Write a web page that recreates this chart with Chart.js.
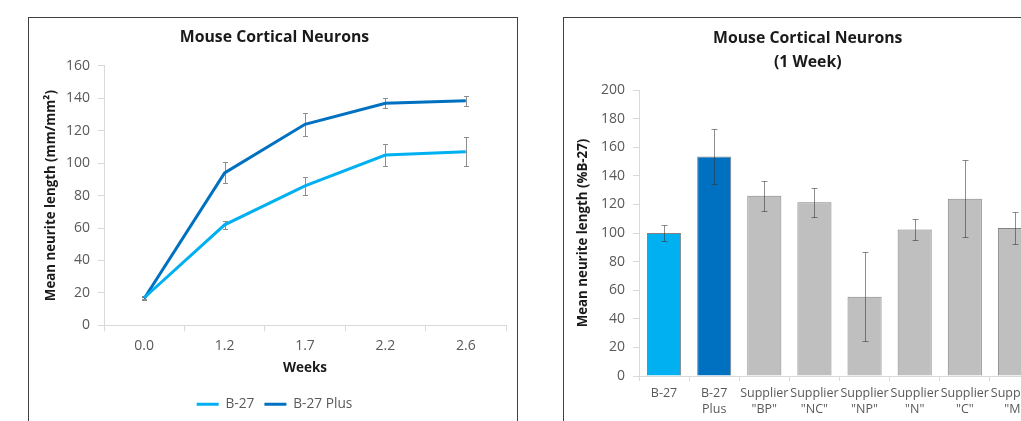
<!DOCTYPE html>
<html>
<head>
<meta charset="utf-8">
<script src="https://cdn.jsdelivr.net/npm/chart.js@4.4.1/dist/chart.umd.min.js"></script>
<style>
  body { margin: 0; background: #fff; width: 1021px; height: 421px; overflow: hidden; position: relative; }
  .box { position: absolute; top: 17px; width: 488px; height: 420px; border: 1px solid #404040; background: #fff; }
  #leftBox { left: 28px; }
  #rightBox { left: 563px; }
  canvas { position: absolute; left: 0; top: 0; }
</style>
</head>
<body>
<div class="box" id="leftBox"><canvas id="line-graph" width="488" height="403"></canvas></div>
<div class="box" id="rightBox"><canvas id="bar-graph" width="488" height="403"></canvas></div>
<script>
// Data - time course
var weeks = ['0.0', '1.2', '1.7', '2.2', '2.6'];
var b27 = [17, 62, 86, 105, 107];
var b27Err = [1, 2.5, 5.5, 7, 9];
var b27Plus = [16.5, 94, 124, 137, 138.5];
var b27PlusErr = [1, 6.5, 7, 3, 3];

// Data - 1 week comparison
var suppliers = [['B-27'], ['B-27', 'Plus'], ['Supplier', '"BP"'], ['Supplier', '"NC"'], ['Supplier', '"NP"'], ['Supplier', '"N"'], ['Supplier', '"C"'], ['Supplier', '"M"']];
var relLength = [100, 153.5, 126, 121.5, 55.5, 102.5, 124, 103.5];
var relErr = [5.5, 19, 10.5, 10, 31, 7.5, 27, 11.5];

var lightBlue = '#00B0F0';
var darkBlue = '#0070C0';
var grey = '#BFBFBF';
var axisGrey = '#D9D9D9';
var textGrey = '#595959';
var font = 'Open Sans';

// error bars drawn from each dataset's "errors" array
function drawErrors(chart, opts) {
  var ctx = chart.ctx;
  var y = chart.scales.y;
  chart.data.datasets.forEach(function (ds, i) {
    if (!ds.errors) return;
    var meta = chart.getDatasetMeta(i);
    ctx.save();
    ctx.strokeStyle = opts.color;
    ctx.lineWidth = 1;
    meta.data.forEach(function (el, j) {
      var x = Math.round(el.x) + 0.5;
      var top = Math.round(y.getPixelForValue(ds.data[j] + ds.errors[j])) + 0.5;
      var bot = Math.round(y.getPixelForValue(ds.data[j] - ds.errors[j])) + 0.5;
      ctx.beginPath();
      ctx.moveTo(x, top); ctx.lineTo(x, bot);
      ctx.moveTo(x - opts.cap, top); ctx.lineTo(x + opts.cap, top);
      ctx.moveTo(x - opts.cap, bot); ctx.lineTo(x + opts.cap, bot);
      ctx.stroke();
    });
    ctx.restore();
  });
}

var errorBars = {
  id: 'errorBars',
  beforeDatasetsDraw: function (chart, args, opts) { if (opts.under) drawErrors(chart, opts); },
  afterDatasetsDraw: function (chart, args, opts) { if (!opts.under) drawErrors(chart, opts); }
};

// Line chart
new Chart(document.getElementById('line-graph'), {
  type: 'line',
  data: {
    labels: weeks,
    datasets: [{
      label: 'B-27',
      data: b27,
      errors: b27Err,
      borderColor: lightBlue,
      backgroundColor: lightBlue,
      borderWidth: 3,
      pointRadius: 0,
      tension: 0
    }, {
      label: 'B-27 Plus',
      data: b27Plus,
      errors: b27PlusErr,
      borderColor: darkBlue,
      backgroundColor: darkBlue,
      borderWidth: 3,
      pointRadius: 0,
      tension: 0
    }]
  },
  plugins: [errorBars],
  options: {
    responsive: false,
    animation: false,
    layout: { padding: { left: 14, right: 11, top: 0, bottom: 0 } },
    plugins: {
      errorBars: { under: true, color: '#8C8C8C', cap: 2.5 },
      tooltip: { enabled: false },
      title: {
        display: true,
        text: 'Mouse Cortical Neurons',
        color: '#1a1a1a',
        font: { family: font, size: 15.8, weight: 'bold', lineHeight: 1.2 },
        padding: { top: 10.5, bottom: 18.5 }
      },
      legend: {
        position: 'bottom',
        labels: {
          usePointStyle: true,
          pointStyle: 'line',
          pointStyleWidth: 22,
          color: textGrey,
          font: { family: font, size: 13.7 },
          padding: 10
        }
      }
    },
    scales: {
      x: {
        offset: true,
        grid: { drawOnChartArea: false, offset: true, tickLength: 6, color: axisGrey },
        border: { color: axisGrey },
        ticks: { color: textGrey, font: { family: font, size: 14 }, padding: 6 },
        title: {
          display: true, text: 'Weeks', color: '#1a1a1a',
          font: { family: font, size: 13.5, weight: 'bold' },
          padding: { top: 0, bottom: 11 }
        },
        afterFit: function (s) { s.height = 62; }
      },
      y: {
        min: 0,
        max: 160,
        grid: { drawOnChartArea: false, tickLength: 6, color: axisGrey },
        border: { color: axisGrey },
        ticks: { stepSize: 20, color: textGrey, font: { family: font, size: 14 }, padding: 8 },
        title: {
          display: true, text: 'Mean neurite length (mm/mm²)', color: '#1a1a1a',
          font: { family: font, size: 13.3, weight: 'bold' },
          padding: { top: 0, bottom: 0 }
        },
        afterFit: function (s) { s.width = 61; }
      }
    }
  }
});

// Bar chart
new Chart(document.getElementById('bar-graph'), {
  type: 'bar',
  data: {
    labels: suppliers,
    datasets: [{
      label: 'Mean neurite length',
      data: relLength,
      errors: relErr,
      backgroundColor: [lightBlue, darkBlue, grey, grey, grey, grey, grey, grey],
      borderColor: 'rgba(90,90,90,0.75)',
      borderWidth: 1,
      barPercentage: 0.68,
      categoryPercentage: 1
    }]
  },
  plugins: [errorBars],
  options: {
    responsive: false,
    animation: false,
    layout: { padding: { left: 11.5, right: 12, top: 0, bottom: 0 } },
    plugins: {
      errorBars: { under: false, color: 'rgba(50,50,50,0.55)', cap: 3 },
      tooltip: { enabled: false },
      legend: { display: false },
      title: {
        display: true,
        text: ['Mouse Cortical Neurons', '(1 Week)'],
        color: '#1a1a1a',
        font: { family: font, size: 15.8, weight: 'bold', lineHeight: '24px' },
        padding: { top: 8, bottom: 16 }
      }
    },
    scales: {
      x: {
        grid: { drawOnChartArea: false, offset: true, tickLength: 5, color: axisGrey },
        border: { color: axisGrey },
        ticks: { color: textGrey, font: { family: font, size: 12.5, lineHeight: 1.25 }, padding: 5, maxRotation: 0, autoSkip: false },
        afterFit: function (s) { s.height = 45; }
      },
      y: {
        min: 0,
        max: 200,
        grid: { drawOnChartArea: false, tickLength: 6, color: axisGrey },
        border: { color: axisGrey },
        ticks: { stepSize: 20, color: textGrey, font: { family: font, size: 14 }, padding: 8 },
        title: {
          display: true, text: 'Mean neurite length (%B-27)', color: '#1a1a1a',
          font: { family: font, size: 13.3, weight: 'bold' },
          padding: { top: 0, bottom: 0 }
        },
        afterFit: function (s) { s.width = 63.5; }
      }
    }
  }
});
</script>
</body>
</html>
